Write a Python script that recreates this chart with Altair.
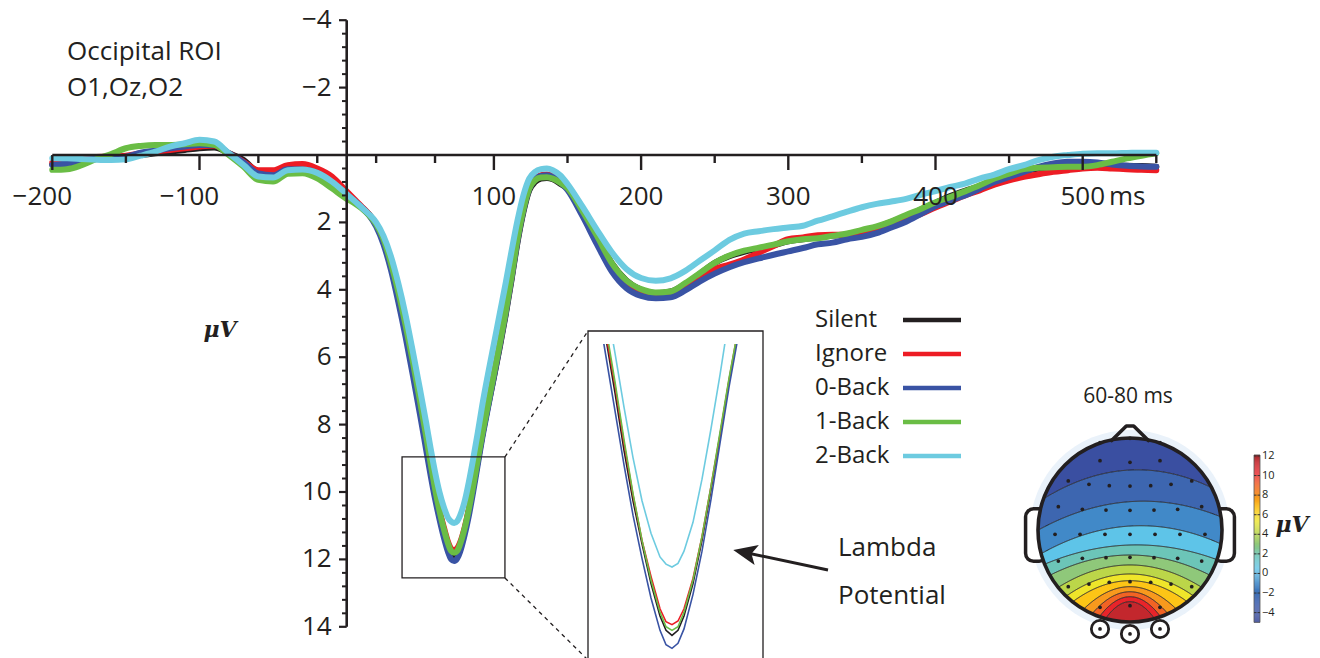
import numpy as np
import pandas as pd
import altair as alt

INK = "#231f20"
FONT = "Open Sans"

# ---------------- data ----------------
TIME = [-200, -190, -180, -170, -160, -150, -140, -130, -120, -110, -100, -90, -80, -70, -60, -50, -40, -30, -20, -10,
        0, 5, 10, 15, 20, 25, 30, 35, 40, 45,
        50, 54, 57, 60, 63, 66, 69, 71, 73, 75,
        77, 80, 83, 86, 89, 92, 96, 100, 104, 108,
        112, 116, 120, 124, 128, 132, 136, 140, 145, 150,
        160, 170, 180, 190, 200, 210, 220, 230, 240, 250,
        260, 270, 280, 290, 300, 310, 320, 330, 340, 350,
        360, 370, 380, 390, 400, 410, 420, 430, 440, 450,
        460, 470, 480, 490, 500, 510, 520, 530, 540, 550]

SILENT = [0.28, 0.25, 0.18, 0.12, 0.08, 0.05, 0.0, -0.05, -0.1, -0.15, -0.2, -0.22, -0.05, 0.15, 0.5, 0.53, 0.4, 0.45, 0.53, 0.84,
          1.19, 1.35, 1.55, 1.75, 2.05, 2.55, 3.25, 4.15, 5.15, 6.3,
          7.5, 8.5, 9.3, 10.0, 10.6, 11.15, 11.6, 11.8, 11.87, 11.8,
          11.6, 11.15, 10.55, 9.85, 9.1, 8.35, 7.45, 6.6, 5.7, 4.75,
          3.7, 2.6, 1.7, 1.05, 0.8, 0.7, 0.68, 0.72, 0.85, 1.0,
          1.66, 2.4, 3.2, 3.72, 4.0, 4.1, 4.05, 3.83, 3.52, 3.2,
          3.0, 2.87, 2.78, 2.68, 2.56, 2.5, 2.44, 2.39, 2.37, 2.28,
          2.15, 1.98, 1.82, 1.62, 1.42, 1.22, 1.06, 0.92, 0.72, 0.58,
          0.48, 0.4, 0.36, 0.35, 0.33, 0.3, 0.3, 0.32, 0.33, 0.35]

IGNORE = [0.22, 0.2, 0.12, 0.06, 0.05, 0.02, -0.05, -0.1, -0.15, -0.2, -0.25, -0.28, -0.05, 0.2, 0.45, 0.45, 0.3, 0.27, 0.4, 0.64,
          1.08, 1.3, 1.52, 1.75, 2.07, 2.55, 3.28, 4.15, 5.15, 6.25,
          7.45, 8.4, 9.2, 9.92, 10.55, 11.05, 11.5, 11.68, 11.72, 11.67,
          11.5, 11.08, 10.5, 9.8, 9.08, 8.32, 7.4, 6.5, 5.6, 4.65,
          3.6, 2.5, 1.6, 0.95, 0.7, 0.6, 0.58, 0.62, 0.78, 0.98,
          1.7, 2.5, 3.3, 3.8, 4.05, 4.13, 4.1, 3.9, 3.62, 3.38,
          3.25, 3.1, 2.9, 2.7, 2.5, 2.45, 2.38, 2.37, 2.37, 2.3,
          2.22, 2.08, 1.93, 1.75, 1.56, 1.38, 1.2, 1.05, 0.88, 0.75,
          0.65, 0.57, 0.5, 0.45, 0.4, 0.38, 0.4, 0.42, 0.44, 0.45]

BACK0 = [0.3, 0.25, 0.17, 0.1, 0.08, 0.05, -0.07, -0.13, -0.2, -0.25, -0.3, -0.3, -0.05, 0.22, 0.55, 0.6, 0.42, 0.43, 0.53, 0.84,
         1.19, 1.35, 1.55, 1.78, 2.12, 2.65, 3.4, 4.35, 5.4, 6.55,
         7.75, 8.75, 9.5, 10.2, 10.8, 11.35, 11.8, 12.0, 12.05, 11.98,
         11.78, 11.3, 10.7, 9.98, 9.2, 8.42, 7.5, 6.58, 5.65, 4.7,
         3.65, 2.55, 1.65, 1.0, 0.72, 0.62, 0.6, 0.65, 0.8, 1.04,
         1.8, 2.65, 3.45, 3.95, 4.18, 4.25, 4.22, 4.02, 3.75, 3.52,
         3.33, 3.18, 3.07, 2.96, 2.86, 2.76, 2.65, 2.6, 2.5, 2.43,
         2.32, 2.15, 1.98, 1.75, 1.52, 1.35, 1.2, 1.0, 0.8, 0.65,
         0.5, 0.35, 0.25, 0.2, 0.2, 0.22, 0.28, 0.32, 0.34, 0.35]

BACK1 = [0.44, 0.42, 0.3, 0.12, -0.03, -0.2, -0.27, -0.3, -0.3, -0.32, -0.35, -0.3, 0.0, 0.35, 0.74, 0.79, 0.56, 0.54, 0.69, 0.99,
         1.3, 1.42, 1.58, 1.78, 2.05, 2.5, 3.2, 4.05, 5.05, 6.15,
         7.35, 8.35, 9.15, 9.9, 10.55, 11.1, 11.55, 11.75, 11.8, 11.75,
         11.55, 11.1, 10.5, 9.8, 9.05, 8.3, 7.4, 6.5, 5.6, 4.65,
         3.6, 2.5, 1.62, 1.0, 0.75, 0.67, 0.66, 0.7, 0.82, 0.98,
         1.65, 2.4, 3.2, 3.72, 3.98, 4.08, 4.05, 3.8, 3.5, 3.2,
         2.98, 2.84, 2.75, 2.66, 2.56, 2.5, 2.47, 2.4, 2.33, 2.22,
         2.12, 1.97, 1.78, 1.6, 1.4, 1.25, 1.08, 0.9, 0.7, 0.55,
         0.42, 0.38, 0.36, 0.35, 0.35, 0.3, 0.2, 0.1, 0.02, -0.05]

BACK2 = [0.1, 0.1, 0.12, 0.14, 0.15, 0.13, 0.02, -0.1, -0.25, -0.35, -0.45, -0.4, -0.05, 0.3, 0.64, 0.67, 0.45, 0.43, 0.53, 0.79,
         1.16, 1.35, 1.55, 1.75, 2.0, 2.4, 3.0, 3.8, 4.75, 5.85,
         7.0, 7.95, 8.7, 9.4, 10.0, 10.45, 10.78, 10.88, 10.92, 10.87,
         10.7, 10.3, 9.7, 9.0, 8.25, 7.45, 6.5, 5.6, 4.7, 3.8,
         2.85, 1.95, 1.2, 0.7, 0.5, 0.42, 0.4, 0.45, 0.6, 0.86,
         1.52, 2.22, 2.88, 3.38, 3.65, 3.73, 3.66, 3.44, 3.13, 2.83,
         2.52, 2.33, 2.26, 2.2, 2.15, 2.1, 1.95, 1.82, 1.68, 1.55,
         1.45, 1.38, 1.3, 1.18, 1.07, 0.95, 0.85, 0.7, 0.58, 0.42,
         0.3, 0.15, 0.05, 0.0, -0.04, -0.05, -0.05, -0.06, -0.07, -0.07]

SERIES = ["Silent", "Ignore", "0-Back", "1-Back", "2-Back"]
COLORS = ["#231f20", "#ed1c24", "#3953a4", "#6abd45", "#6dcbe0"]

X_LABELED = [-200, -100, 100, 200, 300, 400, 500]
X_MINOR = [-150, -60, -20, 20, 60, 150, 250, 350, 450, 550]
Y_LABELED = [-4, -2, 2, 4, 6, 8, 10, 12, 14]

ZOOM_T = [37.6, 107.5]
ZOOM_V = [8.96, 12.55]
INSET_T = [45, 100]

# topographic map (60-80 ms): contour lines read as mid height / curvature / tilt
TOPO_MID = [-0.652, -0.308, -0.043, 0.163, 0.272, 0.38, 0.478, 0.551, 0.616, 0.671, 0.725, 0.779]
TOPO_CURV = [0.30, 0.24, 0.26, 0.21, 0.29, 0.40, 0.50, 0.59, 0.96, 1.41, 1.96, 2.6]
TOPO_TILT = [-0.05, -0.07, -0.06, -0.03, 0, 0, 0, 0, 0, 0, 0, 0]
BAND_LEVEL = [-4, -2.5, -1, 0.5, 1.8, 3, 4.2, 5.4, 6.6, 7.8, 9.0, 10.2, 11.4]

CB_STOPS = [-5, -4, -2.5, -1, 0.5, 1.8, 3, 4.2, 5.4, 6.6, 7.8, 9.0, 10.2, 11.4, 12.1]
CB_COLORS = ["#2b3a8f", "#3a4fa1", "#3d66b0", "#4189c8", "#5ec4e8", "#6cc5b8", "#8fc87a", "#bcd649",
             "#efe52a", "#fdc516", "#f8991d", "#f26324", "#e8242a", "#c3272d", "#9c1c20"]
CB_TICKS = [12, 10, 8, 6, 4, 2, 0, -2, -4]

ELEC_U = [-0.326, 0, 0.326, -0.326, 0, 0.326,
          -0.671, -0.446, -0.225, 0, 0.225, 0.446, 0.671,
          -0.779, -0.518, -0.261, 0, 0.261, 0.518, 0.779,
          -0.815, -0.543, -0.272, 0, 0.272, 0.543, 0.815,
          -0.779, -0.518, -0.261, 0, 0.261, 0.518, 0.779,
          -0.671, -0.446, -0.225, 0, 0.225, 0.446, 0.671,
          -0.326, 0, 0.326, -0.326, 0, 0.326]
ELEC_W = [-0.949, -0.997, -0.949, -0.753, -0.736, -0.753,
          -0.533, -0.497, -0.482, -0.478, -0.482, -0.497, -0.533,
          -0.253, -0.225, -0.217, -0.214, -0.217, -0.225, -0.253,
          0.047, 0.047, 0.047, 0.047, 0.047, 0.047, 0.047,
          0.337, 0.308, 0.301, 0.297, 0.301, 0.308, 0.337,
          0.616, 0.587, 0.568, 0.562, 0.568, 0.587, 0.616,
          0.84, 0.823, 0.84, 1.076, 1.13, 1.076]
REF_U = [-0.326, 0, 0.326]
REF_W = [1.076, 1.13, 1.076]

# ---------------- layout ----------------
PX0, PXMS = 346.7, 1.472
PY0, PYUV = 155.0, 33.7


def px(t):
    return PX0 + PXMS * t


def py(v):
    return PY0 + PYUV * v


XS = alt.Scale(domain=[-200, 550], range=[px(-200), px(550)], nice=False, zero=False)
YS = alt.Scale(domain=[-4, 14], range=[py(-4), py(14)], nice=False, zero=False)
CS = alt.Scale(domain=SERIES, range=COLORS)
XI = alt.Scale(domain=[40, 106], range=[672 + 3.0 * (40 - 73), 672 + 3.0 * (106 - 73)], nice=False, zero=False)
YI = alt.Scale(domain=[7, 12.5], range=[567 + 72 * (7 - 10.92), 567 + 72 * (12.5 - 10.92)], nice=False, zero=False)
TXS = alt.Scale(domain=[-1, 1], range=[1038, 1222], nice=False, zero=False)
TYS = alt.Scale(domain=[-1, 1], range=[438, 622], nice=False, zero=False)
TCS = alt.Scale(domain=CB_STOPS, range=CB_COLORS, interpolate="rgb")
CBY = alt.Scale(domain=[-5, 12.1], range=[622.4, 455.0], nice=False, zero=False)

rows = []
for s, vals in zip(SERIES, [SILENT, IGNORE, BACK0, BACK1, BACK2]):
    for t, v in zip(TIME, vals):
        rows.append({"series": s, "t": t, "v": v})
erp = pd.DataFrame(rows)

one = pd.DataFrame({"a": [0]})
layers = []


def text(txt, x, y, size, align="left", font=FONT, weight="normal", style="normal", color=INK):
    return alt.Chart(pd.DataFrame({"txt": [txt]})).mark_text(
        align=align, baseline="middle", fontSize=size, font=font, fontWeight=weight,
        fontStyle=style, color=color).encode(x=alt.value(x), y=alt.value(y), text="txt:N")


# ---------------- topographic map ----------------
us = np.round(np.arange(-1.0, 1.00001, 0.005), 4)


def cw(i, u):
    return TOPO_MID[i] + TOPO_CURV[i] * u * u + TOPO_TILT[i] * u


band_rows = []
for b in range(len(BAND_LEVEL)):
    for u in us:
        half = float(np.sqrt(max(0.0, 1 - u * u)))
        top = -half if b == 0 else cw(b - 1, u)
        bot = half if b == len(BAND_LEVEL) - 1 else cw(b, u)
        top = min(max(top, -half), half)
        bot = min(max(bot, -half), half)
        bot = max(bot, top)
        band_rows.append({"u": u, "top": top, "bot": bot, "band": b, "level": BAND_LEVEL[b]})
bands = pd.DataFrame(band_rows)

cont_rows = []
for i in range(len(TOPO_MID)):
    for u in us:
        half = float(np.sqrt(max(0.0, 1 - u * u)))
        w = cw(i, u)
        if abs(w) <= half:
            cont_rows.append({"u": u, "w": w, "c": i})
conts = pd.DataFrame(cont_rows)

layers.append(alt.Chart(pd.DataFrame({"u": [0], "w": [0]})).mark_point(
    shape="circle", filled=True, color="#eaf2fa", opacity=1, size=(2 * 100) ** 2).encode(
    x=alt.X("u:Q", scale=TXS, axis=None), y=alt.Y("w:Q", scale=TYS, axis=None)))

ears = pd.DataFrame({"u1": [-1.135, 0.9], "u2": [-0.9, 1.135], "w1": [-0.23, -0.23], "w2": [0.34, 0.34]})
layers.append(alt.Chart(ears).mark_rect(cornerRadius=8, fill="white", stroke=INK, strokeWidth=3.5).encode(
    x=alt.X("u1:Q", scale=TXS, axis=None), x2="u2:Q",
    y=alt.Y("w1:Q", scale=TYS, axis=None), y2="w2:Q"))

layers.append(alt.Chart(bands).mark_area(interpolate="linear", opacity=1).encode(
    x=alt.X("u:Q", scale=TXS, axis=None),
    y=alt.Y("top:Q", scale=TYS, axis=None), y2="bot:Q",
    color=alt.Color("level:Q", scale=TCS, legend=None),
    detail="band:N"))

layers.append(alt.Chart(conts).mark_line(strokeWidth=1.0, color=INK).encode(
    x=alt.X("u:Q", scale=TXS, axis=None), y=alt.Y("w:Q", scale=TYS, axis=None), detail="c:N"))

layers.append(alt.Chart(pd.DataFrame({"u": [0], "w": [0]})).mark_point(
    shape="circle", filled=False, stroke=INK, strokeWidth=3.6, opacity=1, size=184 ** 2).encode(
    x=alt.X("u:Q", scale=TXS, axis=None), y=alt.Y("w:Q", scale=TYS, axis=None)))

nose = pd.DataFrame({"u": [-0.2, -0.04, 0.04, 0.2], "w": [-0.972, -1.13, -1.13, -0.972], "o": [0, 1, 2, 3]})
layers.append(alt.Chart(nose).mark_line(strokeWidth=3.6, color=INK, strokeJoin="round", strokeCap="round").encode(
    x=alt.X("u:Q", scale=TXS, axis=None), y=alt.Y("w:Q", scale=TYS, axis=None), order="o:Q"))

layers.append(alt.Chart(pd.DataFrame({"u": REF_U, "w": REF_W})).mark_point(
    shape="circle", filled=True, color="white", stroke=INK, strokeWidth=2.8, opacity=1, size=300).encode(
    x=alt.X("u:Q", scale=TXS, axis=None), y=alt.Y("w:Q", scale=TYS, axis=None)))

layers.append(alt.Chart(pd.DataFrame({"u": ELEC_U, "w": ELEC_W})).mark_circle(
    size=14, color=INK, opacity=1).encode(
    x=alt.X("u:Q", scale=TXS, axis=None), y=alt.Y("w:Q", scale=TYS, axis=None)))

# colour bar
cb_vals = np.round(np.arange(-5.0, 12.1, 0.1), 2)
cbar = pd.DataFrame({"c0": cb_vals, "c1": np.round(cb_vals + 0.11, 3), "cm": cb_vals + 0.05})
layers.append(alt.Chart(cbar).mark_rect().encode(
    x=alt.value(1254), x2=alt.value(1260),
    y=alt.Y("c0:Q", scale=CBY, axis=None), y2="c1:Q",
    color=alt.Color("cm:Q", scale=TCS, legend=None)))
layers.append(alt.Chart(pd.DataFrame({"lo": [-5.0], "hi": [12.1]})).mark_rect(
    fill=None, stroke="#555555", strokeWidth=0.8).encode(
    x=alt.value(1254), x2=alt.value(1260), y=alt.Y("lo:Q", scale=CBY, axis=None), y2="hi:Q"))
cbt = pd.DataFrame({"v": CB_TICKS, "lab": [str(v).replace("-", "\u2212") for v in CB_TICKS]})
layers.append(alt.Chart(cbt).mark_rule(color="#333333", strokeWidth=1).encode(
    x=alt.value(1254), x2=alt.value(1256.5), y=alt.Y("v:Q", scale=CBY, axis=None)))
layers.append(alt.Chart(cbt).mark_rule(color="#333333", strokeWidth=1).encode(
    x=alt.value(1257.5), x2=alt.value(1260), y=alt.Y("v:Q", scale=CBY, axis=None)))
layers.append(alt.Chart(cbt).mark_text(align="left", baseline="middle", fontSize=11, font=FONT, color=INK).encode(
    x=alt.value(1262), y=alt.Y("v:Q", scale=CBY, axis=None), text="lab:N"))

layers.append(text("60-80 ms", 1128, 397, 21, align="center"))
layers.append(text("\u03bcV", 1292, 525, 22, align="center", font="DejaVu Serif", weight="bold", style="italic"))

# ---------------- inset (magnified lambda peak) ----------------
for s in SERIES:
    layers.append(alt.Chart(erp).transform_filter(
        (alt.datum.series == s) & (alt.datum.t >= INSET_T[0]) & (alt.datum.t <= INSET_T[1])
    ).mark_line(strokeWidth=1.6, interpolate="linear").encode(
        x=alt.X("t:Q", scale=XI, axis=None), y=alt.Y("v:Q", scale=YI, axis=None),
        color=alt.Color("series:N", scale=CS, legend=None)))

# white mask above the inset window
layers.append(alt.Chart(one).mark_rect(color="white").encode(
    x=alt.value(570), x2=alt.value(782), y=alt.value(150), y2=alt.value(344)))

# ---------------- main ERP lines ----------------
for s in SERIES:
    layers.append(alt.Chart(erp).transform_filter(alt.datum.series == s).mark_line(
        strokeWidth=6, interpolate="monotone", strokeCap="round", strokeJoin="round").encode(
        x=alt.X("t:Q", scale=XS, axis=None), y=alt.Y("v:Q", scale=YS, axis=None),
        color=alt.Color("series:N", scale=CS, legend=None)))

# zoom box, inset box, dashed connectors
layers.append(alt.Chart(pd.DataFrame({"t0": [ZOOM_T[0]], "t1": [ZOOM_T[1]], "v0": [ZOOM_V[0]], "v1": [ZOOM_V[1]]}))
              .mark_rect(fill=None, stroke=INK, strokeWidth=1.3).encode(
    x=alt.X("t0:Q", scale=XS, axis=None), x2="t1:Q", y=alt.Y("v0:Q", scale=YS, axis=None), y2="v1:Q"))
layers.append(alt.Chart(one).mark_rect(fill=None, stroke=INK, strokeWidth=1.3).encode(
    x=alt.value(588), x2=alt.value(763), y=alt.value(331), y2=alt.value(700)))
layers.append(alt.Chart(one).mark_rule(color=INK, strokeWidth=1.3, strokeDash=[4, 4]).encode(
    x=alt.value(px(ZOOM_T[1])), y=alt.value(py(ZOOM_V[0])), x2=alt.value(588), y2=alt.value(331)))
layers.append(alt.Chart(one).mark_rule(color=INK, strokeWidth=1.3, strokeDash=[4, 4]).encode(
    x=alt.value(px(ZOOM_T[1])), y=alt.value(py(ZOOM_V[1])), x2=alt.value(590), y2=alt.value(662)))

# ---------------- axes ----------------
layers.append(alt.Chart(pd.DataFrame({"t0": [-200], "t1": [550], "v": [0]})).mark_rule(
    strokeWidth=2.6, color=INK).encode(
    x=alt.X("t0:Q", scale=XS, axis=None), x2="t1:Q", y=alt.Y("v:Q", scale=YS, axis=None)))
layers.append(alt.Chart(pd.DataFrame({"t": [0], "v0": [-4], "v1": [14]})).mark_rule(
    strokeWidth=2.6, color=INK).encode(
    x=alt.X("t:Q", scale=XS, axis=None), y=alt.Y("v0:Q", scale=YS, axis=None), y2="v1:Q"))

xmaj = pd.DataFrame({"t": X_LABELED, "v": 0,
                     "lab": [str(t).replace("-", "\u2212") for t in X_LABELED]})
xmin = pd.DataFrame({"t": X_MINOR, "v": 0})
layers.append(alt.Chart(xmaj).mark_rule(strokeWidth=2.4, color=INK).encode(
    x=alt.X("t:Q", scale=XS, axis=None), y=alt.Y("v:Q", scale=YS, axis=None), y2=alt.value(170)))
layers.append(alt.Chart(xmin).mark_rule(strokeWidth=2.4, color=INK).encode(
    x=alt.X("t:Q", scale=XS, axis=None), y=alt.Y("v:Q", scale=YS, axis=None), y2=alt.value(163)))
layers.append(alt.Chart(xmaj).transform_filter(alt.datum.t >= 0).mark_text(
    align="center", baseline="middle", dy=42, fontSize=26, font=FONT, color=INK).encode(
    x=alt.X("t:Q", scale=XS, axis=None), y=alt.Y("v:Q", scale=YS, axis=None), text="lab:N"))
layers.append(alt.Chart(xmaj).transform_filter(alt.datum.t < 0).mark_text(
    align="center", baseline="middle", dy=42, dx=-10, fontSize=26, font=FONT, color=INK).encode(
    x=alt.X("t:Q", scale=XS, axis=None), y=alt.Y("v:Q", scale=YS, axis=None), text="lab:N"))
layers.append(text("ms", 1109, 197, 26))

ymaj = pd.DataFrame({"t": 0, "v": Y_LABELED, "lab": [str(v).replace("-", "\u2212") for v in Y_LABELED]})
ymin_vals = [round(-4 + 0.4 * k, 2) for k in range(46)]
ymin_vals = [v for v in ymin_vals if abs(v / 2 - round(v / 2)) > 1e-6]
ymin = pd.DataFrame({"t": 0, "v": ymin_vals})
layers.append(alt.Chart(ymaj).mark_rule(strokeWidth=2.2, color=INK).encode(
    x=alt.X("t:Q", scale=XS, axis=None), x2=alt.value(339), y=alt.Y("v:Q", scale=YS, axis=None)))
layers.append(alt.Chart(ymin).mark_rule(strokeWidth=2.0, color=INK).encode(
    x=alt.X("t:Q", scale=XS, axis=None), x2=alt.value(342), y=alt.Y("v:Q", scale=YS, axis=None)))
layers.append(alt.Chart(ymaj).mark_text(align="right", baseline="middle", dx=-15, fontSize=26,
                                         font=FONT, color=INK).encode(
    x=alt.X("t:Q", scale=XS, axis=None), y=alt.Y("v:Q", scale=YS, axis=None), text="lab:N"))

layers.append(text("\u03bcV", 220, 330, 22, align="center", font="DejaVu Serif", weight="bold", style="italic"))
layers.append(text("Occipital ROI", 67, 52, 26))
layers.append(text("O1,Oz,O2", 67, 88, 26))

# ---------------- legend ----------------
LY = alt.Scale(type="point", domain=SERIES, range=[320, 456], padding=0)
leg = pd.DataFrame({"series": SERIES})
layers.append(alt.Chart(leg).mark_text(align="left", baseline="middle", fontSize=24, font=FONT, color=INK).encode(
    x=alt.value(815), y=alt.Y("series:N", scale=LY, axis=None), text="series:N"))
layers.append(alt.Chart(leg).mark_rule(strokeWidth=4.5).encode(
    x=alt.value(903), x2=alt.value(961), y=alt.Y("series:N", scale=LY, axis=None),
    color=alt.Color("series:N", scale=CS, legend=None)))

# ---------------- arrow + Lambda Potential ----------------
layers.append(alt.Chart(one).mark_rule(color=INK, strokeWidth=3).encode(
    x=alt.value(828), y=alt.value(570), x2=alt.value(745), y2=alt.value(552.5)))
layers.append(alt.Chart(one).mark_point(
    shape="M-1,0L1,-0.85L0.55,0L1,0.85Z", size=576, filled=True, color=INK, opacity=1, angle=12).encode(
    x=alt.value(745), y=alt.value(552.5)))
layers.append(text("Lambda", 838, 548, 26))
layers.append(text("Potential", 838, 596, 26))

chart = alt.layer(*layers).resolve_scale(
    x="independent", y="independent", color="independent"
).properties(
    width=1320, height=658, padding=0,
    autosize=alt.AutoSizeParams(type="none"),
    background="white",
).configure_view(stroke=None)

chart.save("out.html", embed_options={"renderer": "svg", "actions": False})
